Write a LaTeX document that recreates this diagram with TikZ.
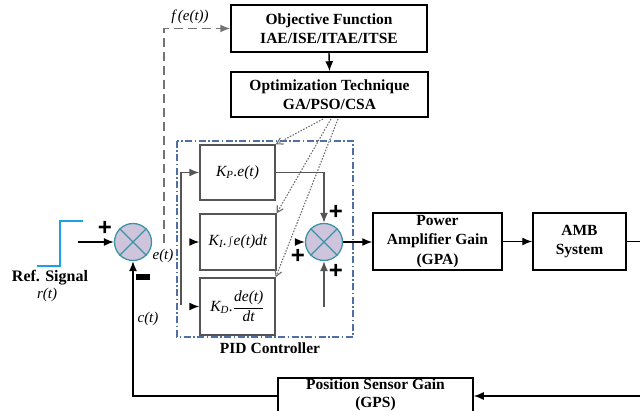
\documentclass[tikz,border=0pt]{standalone}
\usepackage{fontspec}
\setmainfont{Liberation Serif}
\newfontfamily\signfont{Liberation Sans}
\usetikzlibrary{arrows.meta,calc}
\definecolor{sumfill}{HTML}{CEC5DC}
\definecolor{sumedge}{HTML}{3C93A6}
\definecolor{stepcol}{HTML}{1BA1E2}
\definecolor{pidcol}{HTML}{4F6FA8}
\definecolor{boxgray}{HTML}{555555}
\begin{document}
\begin{tikzpicture}[x=1pt,y=-1pt,
  blk/.style={draw=black,line width=1.5pt,rectangle,align=center,inner sep=0pt,
    font=\fontsize{15.5}{19.5}\selectfont\bfseries},
  gblk/.style={draw=boxgray,line width=1.4pt,rectangle,inner sep=0pt,
    font=\fontsize{15.5}{18}\selectfont\itshape},
  sumnode/.style={circle,draw=sumedge,fill=sumfill,line width=1.3pt,minimum size=37pt,inner sep=0pt},
  arr/.style={-{Latex[length=10pt,width=8pt]},line width=1.4pt},
  garr/.style={-{Latex[length=10pt,width=8pt]},line width=1.4pt,draw=boxgray},
  dotarr/.style={dash pattern=on 1.5pt off 1.5pt,draw=gray!85!black,line width=1.1pt,-{Straight Barb[length=6pt,width=7pt]}},
  lbl/.style={font=\fontsize{15}{17}\selectfont\itshape,inner sep=0pt},
  sign/.style={font=\signfont\fontsize{24}{24}\selectfont\bfseries,inner sep=0pt}
]
\useasboundingbox (0,0) rectangle (640,411);

% blocks
\node[blk,minimum width=196pt,minimum height=47pt] (obj) at (329,28.5) {Objective Function\\IAE/ISE/ITAE/ITSE};
\node[blk,minimum width=197pt,minimum height=45pt] (opt) at (329.5,94.5) {Optimization Technique\\GA/PSO/CSA};
\node[gblk,minimum width=75pt,minimum height=55pt] (kp) at (237.5,172.5) {K\textsubscript{P}.e(t)};
\node[gblk,minimum width=76pt,minimum height=56pt] (ki) at (238,242) {K\textsubscript{I}.$\int$e(t)dt};
\node[gblk,minimum width=75pt,minimum height=57pt] (kd) at (237.5,306.5) {K\textsubscript{D}.$\displaystyle\frac{\mbox{\itshape de(t)}}{\mbox{\itshape dt}}$};
\node[blk,minimum width=129pt,minimum height=57pt] (pa) at (437.5,241.5) {Power\\Amplifier Gain\\(GPA)};
\node[blk,minimum width=93pt,minimum height=57pt] (amb) at (579.5,241.5) {AMB\\System};
\node[blk,minimum width=195pt,minimum height=36pt] (gps) at (375.5,396) {};
\node[font=\fontsize{15.5}{18}\selectfont\bfseries,align=center,inner sep=0pt] (gpst) at (375.5,395) {Position Sensor Gain\\(GPS)};

% summing junctions
\node[sumnode] (s1) at (133,242) {};
\draw[sumedge,line width=1.2pt] (s1.north east) -- (s1.south west) (s1.north west) -- (s1.south east);
\node[sumnode] (s2) at (324,242) {};
\draw[sumedge,line width=1.2pt] (s2.north east) -- (s2.south west) (s2.north west) -- (s2.south east);

% PID frame
\draw[pidcol,line width=1.3pt,dash pattern=on 7pt off 2.5pt on 1.5pt off 2.5pt] (177,141) rectangle (353,337);
\node[font=\fontsize{15.5}{18}\selectfont\bfseries,inner sep=0pt] (pidl) at (270,348) {PID Controller};

% step reference
\draw[stepcol,line width=1.6pt] (37,266) -- (60,266) -- (60,221) -- (83,221);
\node[font=\fontsize{16}{18}\selectfont\bfseries,inner sep=0pt] (refl) at (50,278) {Ref. Signal};
\node[lbl] (rl) at (47,295) {r(t)};

% input to sum1
\coordinate (in) at (78,242);
\draw[arr] (in) -- (s1.west);
\node[sign] (p1) at (105,228) {+};
\node[draw=none,fill=black,minimum width=14pt,minimum height=5.5pt,inner sep=0pt] (m1) at (143,277) {};
\node[lbl] (el) at (163,256) {e(t)};
\node[lbl] (cl) at (148,319) {c(t)};

% feedback
\draw[arr] (gps.west) -| (s1.south);
\coordinate (fbin) at (641,396);
\draw[arr] (fbin) -- (gps.east);

% f(e(t)) dashed
\coordinate (fe) at (164,243);
\draw[gray!90!black,dash pattern=on 9pt off 5pt,line width=1.6pt,-{Latex[length=10pt,width=8pt]}] (fe) |- (obj.west);
\node[lbl] (fl) at (190,17) {f\,(e(t))};

% objective to optimization
\draw[arr] (obj.south) -- (opt.north);

% dotted optimization arrows
\coordinate (o1) at (323,119);
\coordinate (o2) at (331,119);
\coordinate (o3) at (338,119);
\draw[dotarr] (o1) -- (kp.north east);
\draw[dotarr] (o2) -- (ki.north east);
\draw[dotarr] (o3) -- (kd.north east);

% PID inputs
\coordinate (v1) at (181,305);
\draw[garr] (v1) |- (kp.west);
\coordinate (kin) at (192,242);
\draw[arr] (kin) -- (ki.west);
\coordinate (kdin) at (192,306.5);
\draw[arr] (kdin) -- (kd.west);

% sum2 inputs
\draw[garr] (kp.east) -| (s2.north);
\coordinate (s2l) at (298,242);
\draw[arr] (s2l) -- (s2.west);
\coordinate (s2b) at (324,307);
\draw[garr] (s2b) -- (s2.south);
\node[sign] (p2) at (336,212) {+};
\node[sign] (p3) at (298,256) {+};
\node[sign] (p4) at (336,271) {+};

% forward path
\draw[arr] (s2.east) -- (pa.west |- s2.east);
\draw[arr] (pa.east) -- (amb.west);
\coordinate (aout) at (641,241.5);
\draw[line width=1.4pt] (amb.east) -- (aout);
\end{tikzpicture}
\end{document}
